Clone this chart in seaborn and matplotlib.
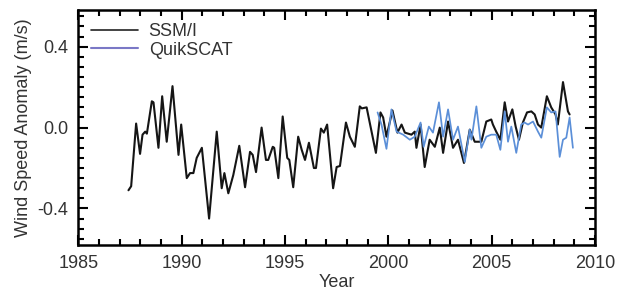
import numpy as np
import pandas as pd
import matplotlib
matplotlib.use("Agg")
import matplotlib.pyplot as plt
from matplotlib.lines import Line2D
from matplotlib.ticker import MultipleLocator
import seaborn as sns

# SSM/I wind speed anomaly (m/s)
ssmi_year = [1987.43, 1987.56, 1987.80, 1987.99, 1988.11, 1988.24, 1988.32, 1988.56, 1988.64,
             1988.88, 1989.06, 1989.28, 1989.56, 1989.85, 1989.98, 1990.25, 1990.41, 1990.57,
             1990.73, 1990.98, 1991.33, 1991.70, 1991.94, 1992.07, 1992.26, 1992.50, 1992.79,
             1993.07, 1993.31, 1993.44, 1993.60, 1993.87, 1994.08, 1994.19, 1994.41, 1994.48,
             1994.68, 1994.89, 1995.11, 1995.21, 1995.40, 1995.64, 1995.81, 1995.97, 1996.16,
             1996.40, 1996.50, 1996.74, 1996.88, 1997.04, 1997.33, 1997.50, 1997.66, 1997.95,
             1998.14, 1998.38, 1998.62, 1998.72, 1998.95, 1999.14, 1999.40, 1999.62, 1999.75,
             1999.91, 2000.20, 2000.44, 2000.64, 2000.80, 2001.12, 2001.28, 2001.36, 2001.56,
             2001.76, 2002.00, 2002.25, 2002.49, 2002.65, 2002.89, 2003.13, 2003.37, 2003.66,
             2003.94, 2004.18, 2004.50, 2004.74, 2004.98, 2005.06, 2005.22, 2005.42, 2005.63,
             2005.79, 2006.00, 2006.16, 2006.32, 2006.51, 2006.71, 2006.92, 2007.08, 2007.24,
             2007.40, 2007.67, 2007.88, 2008.09, 2008.20, 2008.45, 2008.69, 2008.77]
ssmi_anom = [-0.31, -0.29, 0.02, -0.13, -0.035, -0.02, -0.03, 0.13, 0.125,
             -0.10, 0.155, -0.07, 0.205, -0.135, 0.015, -0.25, -0.225, -0.225,
             -0.15, -0.10, -0.45, -0.02, -0.30, -0.225, -0.325, -0.235, -0.09,
             -0.295, -0.12, -0.135, -0.22, 0.0, -0.16, -0.16, -0.095, -0.10,
             -0.25, 0.055, -0.15, -0.16, -0.295, -0.045, -0.11, -0.16, -0.075,
             -0.20, -0.20, -0.005, -0.025, 0.015, -0.30, -0.195, -0.19, 0.025,
             -0.045, -0.095, 0.105, 0.095, 0.10, 0.005, -0.125, 0.075, 0.05,
             -0.045, 0.085, -0.025, 0.015, -0.025, -0.035, -0.02, -0.10, 0.015,
             -0.195, -0.06, -0.095, 0.0, -0.125, 0.03, -0.10, -0.06, -0.175,
             -0.01, -0.07, -0.07, 0.03, 0.04, 0.015, -0.02, -0.06, 0.125,
             0.03, 0.09, 0.005, -0.06, 0.025, 0.075, 0.08, 0.065, 0.015,
             0.0, 0.155, 0.10, 0.065, 0.015, 0.225, 0.08, 0.065]

# QuikSCAT wind speed anomaly (m/s)
qscat_year = [1999.48, 1999.67, 1999.91, 2000.15, 2000.40, 2000.72, 2001.04, 2001.28, 2001.56,
              2001.71, 2001.96, 2002.16, 2002.45, 2002.65, 2002.89, 2003.13, 2003.37, 2003.70,
              2003.94, 2004.02, 2004.26, 2004.50, 2004.74, 2004.98, 2005.22, 2005.42, 2005.63,
              2005.79, 2005.95, 2006.19, 2006.43, 2006.59, 2006.76, 2007.00, 2007.24, 2007.40,
              2007.67, 2007.88, 2008.09, 2008.29, 2008.45, 2008.61, 2008.77, 2008.93]
qscat_anom = [0.075, 0.015, -0.105, 0.09, -0.02, -0.035, -0.06, -0.045, 0.025,
              -0.095, 0.005, -0.025, 0.125, -0.045, 0.09, -0.06, 0.005, -0.17,
              -0.01, -0.06, 0.105, -0.10, -0.045, -0.035, -0.035, -0.11, 0.08,
              -0.07, 0.005, -0.125, 0.015, 0.025, 0.015, 0.03, -0.02, -0.05,
              0.10, 0.075, 0.08, -0.145, -0.06, -0.05, 0.05, -0.10]

ssmi = pd.DataFrame({'Year': ssmi_year, 'Anomaly': ssmi_anom})
qscat = pd.DataFrame({'Year': qscat_year, 'Anomaly': qscat_anom})

sns.set_style("ticks")
plt.rcParams['font.family'] = ['Liberation Sans', 'DejaVu Sans']
txt = '#333333'

fig = plt.figure(figsize=(6.31, 2.95), dpi=100)
ax = fig.add_axes([0.124, 0.17, 0.819, 0.795])

line_kw = dict(solid_joinstyle='round', solid_capstyle='round')
sns.lineplot(data=ssmi, x='Year', y='Anomaly', color='#151515', linewidth=1.5, ax=ax, **line_kw)
sns.lineplot(data=qscat, x='Year', y='Anomaly', color='#5b8fd8', linewidth=1.25, ax=ax, **line_kw)

ax.set_xlim(1985, 2010)
ax.set_ylim(-0.58, 0.58)
ax.set_xticks([1985, 1990, 1995, 2000, 2005, 2010])
ax.set_yticks([-0.4, 0.0, 0.4])
ax.set_yticklabels(['-0.4', '0.0', '0.4'])
ax.xaxis.set_minor_locator(MultipleLocator(1))
ax.yaxis.set_minor_locator(MultipleLocator(0.05))
ax.tick_params(which='both', direction='in', top=True, right=True,
               labelsize=13, colors='black', labelcolor=txt, width=1.5)
ax.tick_params(which='major', length=7, pad=7)
ax.tick_params(which='minor', length=4)
for s in ax.spines.values():
    s.set_linewidth(1.8)
    s.set_color('black')

ax.set_xlabel('Year', fontsize=13, color=txt, labelpad=2)
ax.set_ylabel('Wind Speed Anomaly (m/s)', fontsize=13, color=txt, labelpad=4)

handles = [Line2D([], [], color='#222222', linewidth=1.2),
           Line2D([], [], color='#7a78c6', linewidth=1.5)]
ax.legend(handles, ['SSM/I', 'QuikSCAT'], loc='upper left', frameon=False,
          fontsize=13, handlelength=2.6, handletextpad=0.6, labelspacing=0.1,
          borderaxespad=0.3, labelcolor=txt)

fig.savefig('out.png', dpi=100)
